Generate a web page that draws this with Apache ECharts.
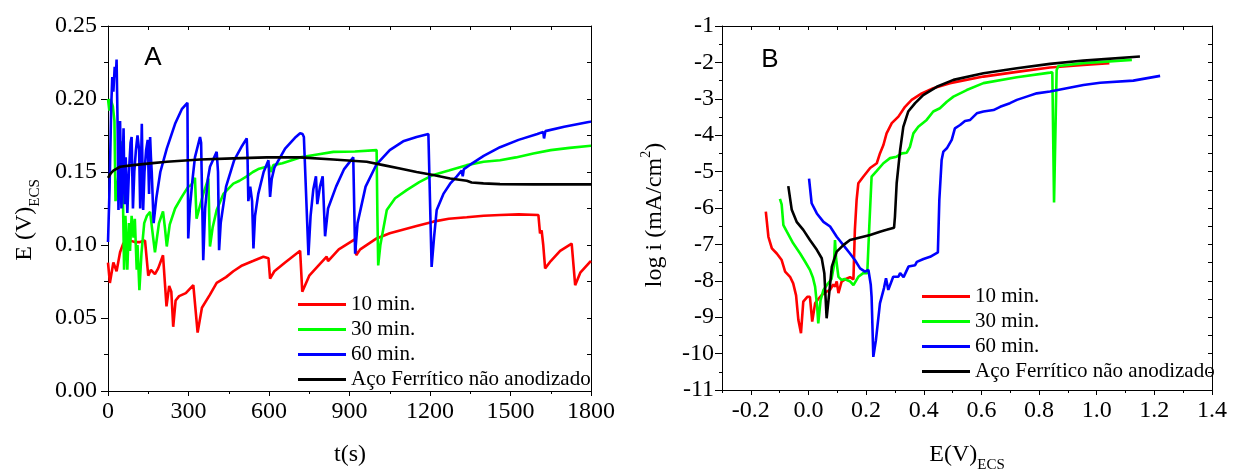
<!DOCTYPE html>
<html><head><meta charset="utf-8">
<script src="https://cdn.jsdelivr.net/npm/echarts@6/dist/echarts.min.js"></script>
<style>html,body{margin:0;padding:0;background:#fff}#c{width:1233px;height:470px}</style>
</head><body><div id="c"></div>
<script>
// ---------- Panel A : E(V) vs t(s) ----------
const curveA10 = [[0,0.088],[7,0.074],[20,0.088],[32,0.082],[45,0.095],[57,0.101],[82,0.103],[100,0.102],[119,0.102],[138,0.103],[150,0.079],[160,0.083],[175,0.080],[187,0.084],[205,0.093],[218,0.058],[228,0.072],[236,0.068],[243,0.044],[252,0.062],[265,0.065],[290,0.067],[318,0.0725],[334,0.040],[350,0.057],[380,0.066],[405,0.074],[440,0.078],[467,0.082],[500,0.086],[540,0.089],[579,0.092],[598,0.091],[604,0.077],[620,0.082],[660,0.088],[716,0.096],[724,0.068],[750,0.079],[790,0.087],[815,0.092],[820,0.089],[860,0.097],[921,0.104],[925,0.093],[940,0.097],[1001,0.1045],[1050,0.108],[1088,0.110],[1150,0.113],[1212,0.116],[1270,0.118],[1337,0.119],[1400,0.120],[1461,0.1205],[1530,0.121],[1604,0.1205],[1610,0.108],[1616,0.110],[1622,0.100],[1629,0.084],[1650,0.089],[1685,0.096],[1728,0.101],[1741,0.0725],[1760,0.081],[1794,0.088],[1800,0.089]];
const curveA30 = [[0,0.200],[5,0.192],[10,0.200],[18,0.195],[24,0.185],[28,0.130],[35,0.140],[45,0.160],[51,0.171],[55,0.140],[60,0.083],[65,0.120],[72,0.083],[78,0.115],[82,0.096],[88,0.120],[95,0.105],[100,0.118],[107,0.083],[110,0.100],[117,0.069],[125,0.095],[135,0.115],[145,0.120],[157,0.1227],[165,0.110],[175,0.095],[190,0.115],[205,0.123],[212,0.112],[219,0.099],[230,0.114],[250,0.125],[275,0.133],[299,0.140],[310,0.141],[318,0.144],[324,0.146],[330,0.118],[340,0.125],[355,0.135],[374,0.1456],[380,0.099],[390,0.112],[405,0.124],[430,0.135],[467,0.142],[490,0.144],[517,0.147],[540,0.150],[560,0.152],[591,0.1536],[600,0.155],[606,0.150],[616,0.1547],[650,0.156],[716,0.160],[780,0.162],[840,0.1638],[920,0.164],[1001,0.165],[1004,0.120],[1007,0.086],[1015,0.100],[1039,0.124],[1070,0.132],[1113,0.1376],[1160,0.143],[1212,0.148],[1270,0.151],[1337,0.1547],[1400,0.157],[1461,0.158],[1520,0.160],[1585,0.1627],[1650,0.165],[1720,0.1665],[1800,0.168]];
const curveA60 = [[0,0.102],[6,0.140],[12,0.195],[16,0.215],[20,0.205],[25,0.222],[29,0.215],[32,0.227],[36,0.180],[39,0.124],[45,0.185],[50,0.125],[54,0.150],[58,0.180],[62,0.128],[66,0.160],[72,0.122],[78,0.150],[84,0.170],[88,0.174],[93,0.125],[98,0.150],[104,0.165],[110,0.175],[116,0.165],[120,0.125],[126,0.183],[131,0.124],[136,0.150],[142,0.165],[148,0.172],[153,0.135],[157,0.174],[160,0.160],[163,0.150],[170,0.115],[180,0.132],[195,0.150],[219,0.166],[250,0.183],[275,0.193],[296,0.1974],[299,0.1045],[305,0.125],[315,0.145],[324,0.160],[343,0.174],[347,0.170],[355,0.0896],[362,0.125],[372,0.145],[380,0.1536],[405,0.1638],[410,0.150],[414,0.0964],[420,0.115],[440,0.140],[470,0.158],[500,0.168],[517,0.173],[520,0.160],[523,0.130],[530,0.140],[537,0.130],[542,0.0976],[548,0.120],[560,0.135],[580,0.150],[598,0.158],[604,0.133],[610,0.145],[620,0.153],[660,0.166],[700,0.174],[716,0.1765],[725,0.176],[730,0.174],[747,0.093],[755,0.120],[765,0.138],[775,0.147],[780,0.128],[790,0.140],[800,0.147],[809,0.106],[820,0.125],[850,0.140],[880,0.152],[914,0.160],[921,0.094],[930,0.115],[960,0.140],[1000,0.155],[1050,0.165],[1100,0.171],[1150,0.174],[1194,0.176],[1200,0.175],[1206,0.085],[1215,0.105],[1225,0.124],[1250,0.135],[1275,0.142],[1300,0.147],[1318,0.151],[1322,0.147],[1326,0.152],[1350,0.155],[1400,0.161],[1461,0.167],[1530,0.172],[1600,0.176],[1622,0.1775],[1625,0.173],[1630,0.178],[1700,0.181],[1796,0.1844],[1800,0.1846]];
const curveAAco = [[0,0.146],[10,0.149],[20,0.151],[45,0.1536],[94,0.1547],[157,0.1559],[219,0.157],[343,0.1586],[467,0.1593],[591,0.160],[716,0.160],[840,0.1586],[964,0.157],[1026,0.1547],[1088,0.1524],[1150,0.150],[1212,0.1479],[1275,0.1456],[1337,0.144],[1355,0.1428],[1399,0.1422],[1461,0.1417],[1585,0.1415],[1700,0.1415],[1800,0.1415]];

// ---------- Panel B : log i vs E(V) ----------
const curveB10 = [[-0.148,-6.10],[-0.139,-6.79],[-0.127,-7.11],[-0.110,-7.25],[-0.093,-7.43],[-0.081,-7.75],[-0.064,-7.89],[-0.053,-8.07],[-0.043,-8.40],[-0.035,-9.08],[-0.026,-9.44],[-0.018,-8.57],[-0.004,-8.44],[0.005,-8.44],[0.013,-9.12],[0.023,-8.62],[0.034,-8.50],[0.046,-8.39],[0.063,-8.30],[0.075,-8.25],[0.086,-8.10],[0.092,-8.16],[0.098,-8.02],[0.104,-8.34],[0.115,-8.02],[0.130,-7.95],[0.144,-7.90],[0.156,-7.96],[0.161,-6.60],[0.167,-5.78],[0.173,-5.32],[0.190,-5.14],[0.214,-4.90],[0.237,-4.77],[0.248,-4.50],[0.260,-4.27],[0.271,-3.95],[0.289,-3.67],[0.312,-3.49],[0.335,-3.22],[0.358,-3.03],[0.393,-2.85],[0.433,-2.71],[0.491,-2.57],[0.607,-2.39],[0.723,-2.26],[0.838,-2.14],[0.954,-2.07],[1.044,-2.02]];
const curveB30 = [[-0.099,-5.75],[-0.093,-5.90],[-0.087,-6.47],[-0.075,-6.65],[-0.053,-6.97],[-0.029,-7.25],[-0.012,-7.47],[0.005,-7.70],[0.015,-7.90],[0.023,-8.16],[0.030,-8.70],[0.034,-9.17],[0.042,-8.53],[0.052,-8.25],[0.065,-8.10],[0.080,-7.95],[0.088,-7.60],[0.092,-6.88],[0.096,-7.40],[0.104,-7.89],[0.115,-7.98],[0.125,-7.95],[0.133,-7.98],[0.145,-8.02],[0.156,-8.12],[0.173,-7.89],[0.190,-7.79],[0.204,-7.79],[0.211,-6.51],[0.219,-5.14],[0.237,-4.98],[0.260,-4.77],[0.283,-4.63],[0.306,-4.59],[0.324,-4.50],[0.341,-4.48],[0.352,-4.32],[0.364,-3.95],[0.381,-3.77],[0.410,-3.58],[0.433,-3.35],[0.456,-3.26],[0.480,-3.08],[0.503,-2.94],[0.549,-2.76],[0.607,-2.57],[0.723,-2.41],[0.838,-2.28],[0.846,-2.27],[0.852,-5.85],[0.861,-2.21],[0.867,-2.10],[0.954,-2.02],[1.122,-1.93]];
const curveB60 = [[0.002,-5.19],[0.011,-5.87],[0.029,-6.15],[0.052,-6.38],[0.075,-6.51],[0.098,-6.79],[0.121,-7.02],[0.144,-7.25],[0.161,-7.43],[0.179,-7.66],[0.196,-7.75],[0.208,-7.70],[0.216,-8.10],[0.219,-8.44],[0.225,-10.09],[0.234,-9.63],[0.248,-8.62],[0.262,-8.20],[0.269,-7.93],[0.277,-8.25],[0.294,-7.89],[0.312,-7.89],[0.318,-7.79],[0.330,-7.90],[0.347,-7.61],[0.370,-7.57],[0.376,-7.48],[0.399,-7.40],[0.422,-7.34],[0.449,-7.22],[0.454,-5.78],[0.462,-4.68],[0.468,-4.45],[0.480,-4.36],[0.497,-4.13],[0.508,-3.81],[0.526,-3.72],[0.543,-3.61],[0.561,-3.58],[0.584,-3.40],[0.607,-3.35],[0.642,-3.31],[0.665,-3.22],[0.699,-3.12],[0.723,-3.03],[0.757,-2.94],[0.792,-2.85],[0.838,-2.80],[0.896,-2.71],[0.954,-2.62],[1.012,-2.56],[1.127,-2.50],[1.220,-2.37]];
const curveBAco = [[-0.070,-5.40],[-0.058,-6.05],[-0.041,-6.38],[-0.018,-6.60],[0.005,-6.88],[0.029,-7.15],[0.046,-7.38],[0.055,-7.79],[0.063,-9.03],[0.072,-8.34],[0.081,-7.61],[0.098,-7.20],[0.121,-7.02],[0.144,-6.88],[0.179,-6.81],[0.214,-6.74],[0.248,-6.65],[0.271,-6.60],[0.297,-6.54],[0.300,-6.24],[0.306,-5.32],[0.318,-4.41],[0.329,-3.77],[0.346,-3.35],[0.370,-3.12],[0.398,-2.90],[0.445,-2.67],[0.503,-2.48],[0.607,-2.30],[0.723,-2.16],[0.838,-2.04],[0.954,-1.95],[1.150,-1.84]];

const seriesNames = ['10 min.', '30 min.', '60 min.', 'Aço Ferrítico não anodizado'];
const seriesColors = ['#ff0000', '#00ff00', '#0000ff', '#000000'];
const bMajorTicks = [-0.2, 0, 0.2, 0.4, 0.6, 0.8, 1.0, 1.2, 1.4];

const serif = 'Liberation Serif';
const black = {color: '#000', width: 1};

function frameAxis(extra) {
  return Object.assign({
    type: 'value',
    axisLine: {show: true, onZero: false, lineStyle: black},
    axisTick: {show: true, inside: true, length: 4, lineStyle: black},
    minorTick: {show: true, splitNumber: 2, length: 4, lineStyle: black},
    axisLabel: {show: false},
    splitLine: {show: false},
    minorSplitLine: {show: false}
  }, extra);
}
function mainAxis(extra) {
  return Object.assign({
    type: 'value',
    axisLine: {show: true, onZero: false, lineStyle: black},
    splitLine: {show: false},
    minorSplitLine: {show: false}
  }, extra);
}
const labelStyle = {fontSize: 24, fontFamily: serif, color: '#000'};

const chart = echarts.init(document.getElementById('c'));
const lineSeries = (name, color, data, gi) => ({
  type: 'line', name, data, xAxisIndex: gi === 0 ? 0 : 2, yAxisIndex: gi === 0 ? 0 : 2,
  showSymbol: false, symbol: 'none', animation: false, silent: true,
  lineStyle: {color, width: 2.6}, itemStyle: {color}
});
const legendBase = {
  orient: 'vertical', itemWidth: 48, itemHeight: 3, itemGap: 4, icon: 'rect', padding: 0,
  selectedMode: false, data: seriesNames,
  textStyle: {fontFamily: serif, fontSize: 21, color: '#000', lineHeight: 21}
};

chart.setOption({
  animation: false,
  backgroundColor: '#fff',
  grid: [
    {left: 108, top: 26, width: 483, height: 365},
    {left: 722, top: 26, width: 490, height: 364}
  ],
  xAxis: [
    mainAxis({gridIndex: 0, position: 'bottom', min: 0, max: 1800, interval: 300,
      axisTick: {show: true, length: 5, lineStyle: black},
      minorTick: {show: true, splitNumber: 2, length: 3, lineStyle: black},
      axisLabel: Object.assign({margin: 9, formatter: v => String(v)}, labelStyle)}),
    frameAxis({gridIndex: 0, position: 'top', min: 0, max: 1800, interval: 300}),
    mainAxis({gridIndex: 1, position: 'bottom', min: -0.3, max: 1.4, interval: 0.1,
      axisTick: {show: true, length: 3, lineStyle: black},
      axisLabel: Object.assign({margin: 9, customValues: bMajorTicks,
        formatter: v => (Math.abs(Math.round(v * 10)) % 2 === 0 ? (Math.abs(v) < 1e-9 ? '0.0' : v.toFixed(1)) : '')}, labelStyle)}),
    frameAxis({gridIndex: 1, position: 'top', min: -0.3, max: 1.4, interval: 0.1,
      minorTick: {show: false}, axisTick: {show: true, inside: true, length: 4, lineStyle: black}}),
    mainAxis({gridIndex: 1, position: 'bottom', min: -0.3, max: 1.4, interval: 0.1,
      axisLine: {show: false, onZero: false},
      axisTick: {show: true, length: 5, lineStyle: black, customValues: bMajorTicks},
      axisLabel: {show: false}})
  ],
  yAxis: [
    mainAxis({gridIndex: 0, position: 'left', min: 0, max: 0.25, interval: 0.05,
      axisTick: {show: true, length: 7, lineStyle: black},
      minorTick: {show: true, splitNumber: 2, length: 4, lineStyle: black},
      axisLabel: Object.assign({margin: 11, formatter: v => v.toFixed(2)}, labelStyle)}),
    frameAxis({gridIndex: 0, position: 'right', min: 0, max: 0.25, interval: 0.05}),
    mainAxis({gridIndex: 1, position: 'left', min: -11, max: -1, interval: 1,
      axisTick: {show: true, length: 7, lineStyle: black},
      minorTick: {show: true, splitNumber: 2, length: 3, lineStyle: black},
      axisLabel: Object.assign({margin: 8}, labelStyle)}),
    frameAxis({gridIndex: 1, position: 'right', min: -11, max: -1, interval: 1})
  ],
  legend: [
    Object.assign({left: 298, top: 294}, legendBase),
    Object.assign({left: 922, top: 286}, legendBase)
  ],
  series: [
    lineSeries(seriesNames[0], seriesColors[0], curveA10, 0),
    lineSeries(seriesNames[1], seriesColors[1], curveA30, 0),
    lineSeries(seriesNames[2], seriesColors[2], curveA60, 0),
    lineSeries(seriesNames[3], seriesColors[3], curveAAco, 0),
    lineSeries(seriesNames[0], seriesColors[0], curveB10, 1),
    lineSeries(seriesNames[1], seriesColors[1], curveB30, 1),
    lineSeries(seriesNames[2], seriesColors[2], curveB60, 1),
    lineSeries(seriesNames[3], seriesColors[3], curveBAco, 1)
  ],
  graphic: [
    {type: 'text', x: 153, y: 58, style: {text: 'A', font: '26px "Liberation Sans"', fill: '#000', align: 'center', verticalAlign: 'middle'}},
    {type: 'text', x: 770, y: 60, style: {text: 'B', font: '26px "Liberation Sans"', fill: '#000', align: 'center', verticalAlign: 'middle'}},
    {type: 'text', x: 350, y: 455, style: {text: 't(s)', font: '24px "Liberation Serif"', fill: '#000', align: 'center', verticalAlign: 'middle'}},
    {type: 'text', x: 967, y: 455, style: {text: '{m|E(V)}{s|ECS}', fill: '#000', align: 'center', verticalAlign: 'middle',
      rich: {m: {fontSize: 24, fontFamily: serif, lineHeight: 36}, s: {fontSize: 15, fontFamily: serif, verticalAlign: 'bottom'}}}},
    {type: 'text', x: 25, y: 220, rotation: Math.PI / 2, style: {text: '{m|E (V)}{s|ECS}', fill: '#000', align: 'center', verticalAlign: 'middle',
      rich: {m: {fontSize: 24, fontFamily: serif, lineHeight: 36}, s: {fontSize: 15, fontFamily: serif, verticalAlign: 'bottom'}}}},
    {type: 'text', x: 655, y: 215, rotation: Math.PI / 2, style: {text: '{m|log i (mA/cm}{p|2}{m|)}', fill: '#000', align: 'center', verticalAlign: 'middle',
      rich: {m: {fontSize: 24, fontFamily: serif, lineHeight: 32}, p: {fontSize: 14, fontFamily: serif, verticalAlign: 'top'}}}}
  ]
});
</script></body></html>
